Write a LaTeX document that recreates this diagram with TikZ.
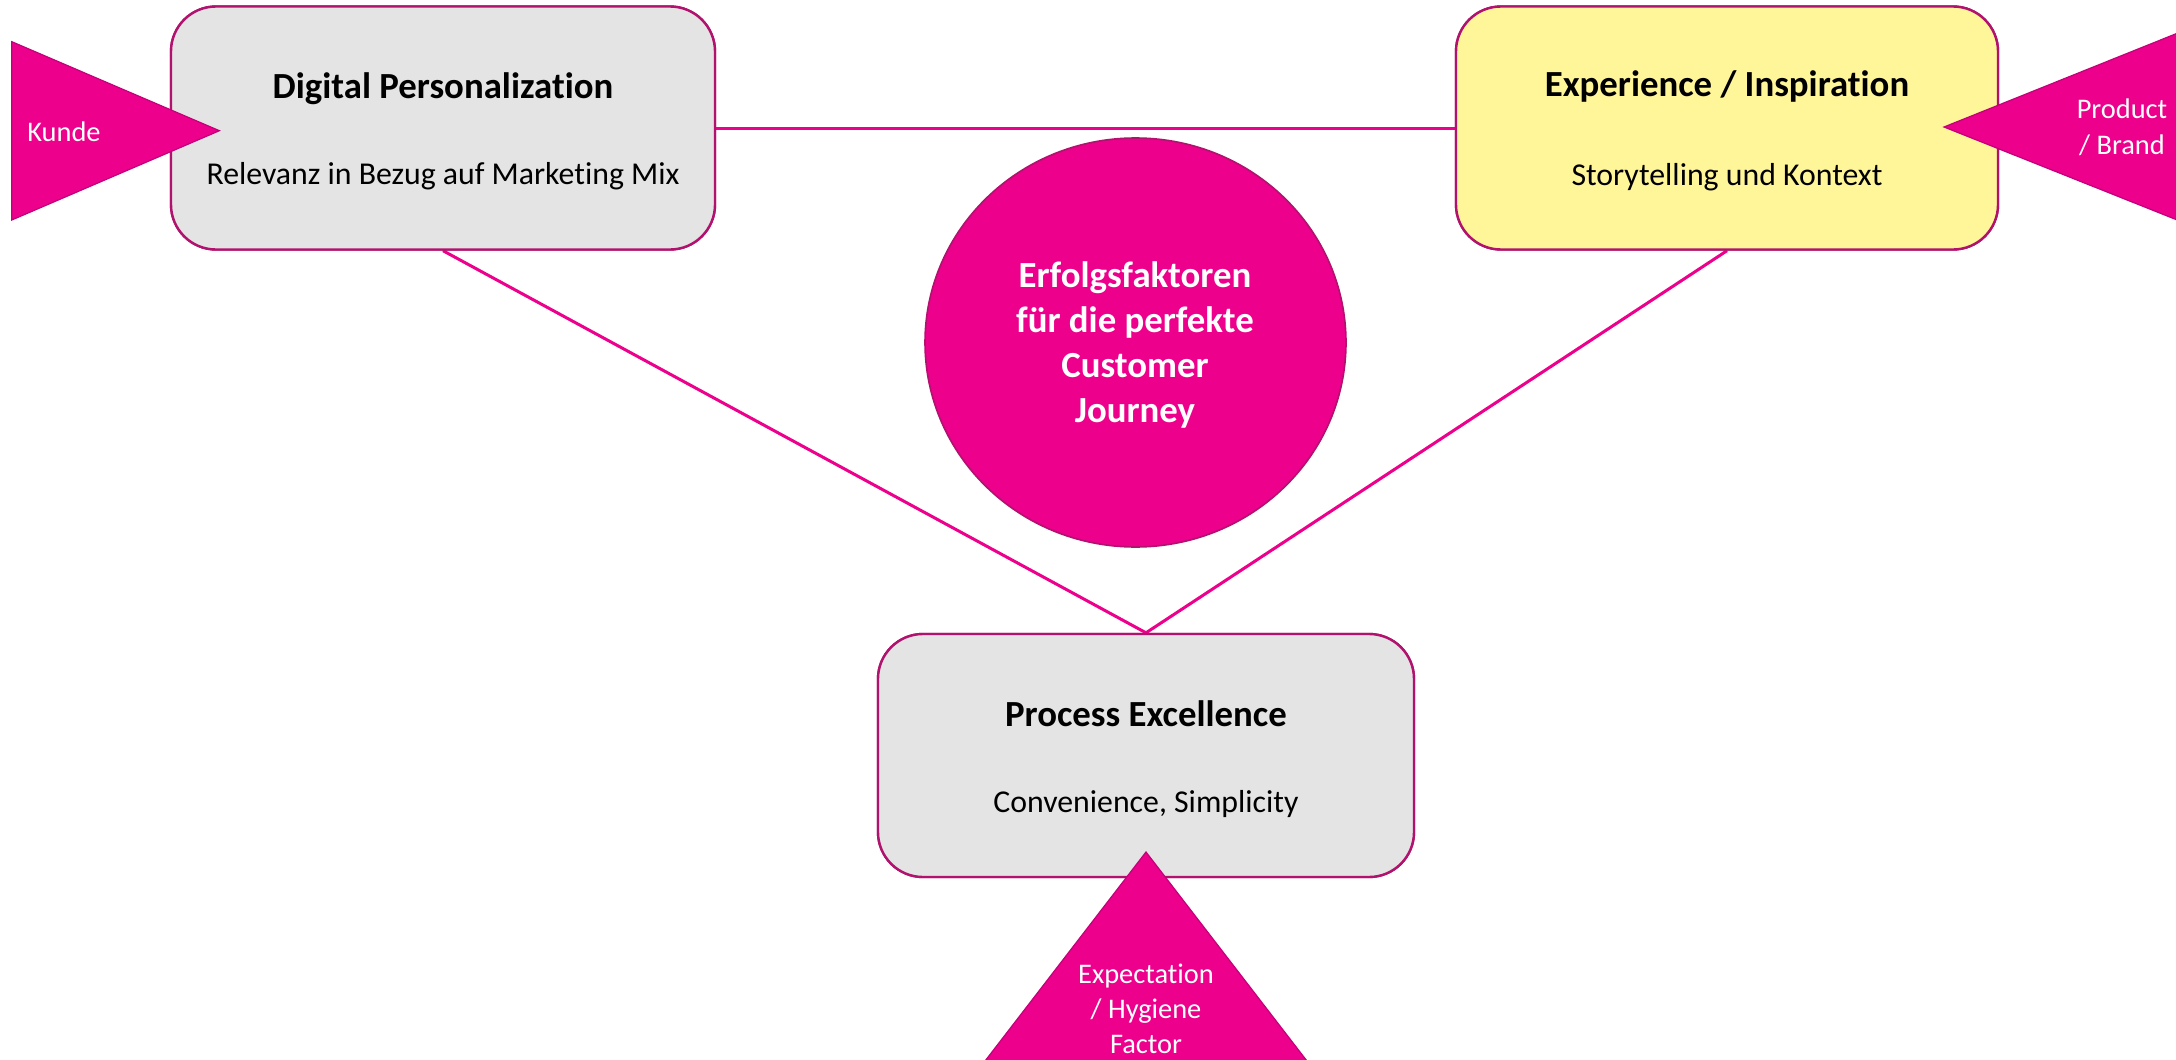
\documentclass[tikz,border=0pt]{standalone}
\usepackage{fontspec}
\setmainfont{Carlito}[Ligatures={NoCommon,NoDiscretionary,NoRare}]
\usetikzlibrary{shapes.geometric}
\definecolor{mag}{HTML}{EC008C}
\definecolor{magborder}{HTML}{B0126E}
\definecolor{tribord}{HTML}{C3007A}
\definecolor{boxgrey}{HTML}{E4E4E4}
\definecolor{boxyellow}{HTML}{FFF599}
\tikzset{
  factorbox/.style={draw=magborder, line width=1.2pt, rounded corners=22.5pt,
    minimum width=272pt, minimum height=121.5pt, inner sep=0pt},
  conn/.style={draw=mag, line width=1.5pt},
  tri/.style={fill=mag, draw=tribord, line width=0.6pt},
  titletext/.style={font=\fontsize{18.4}{22}\selectfont\bfseries, text=black, inner sep=0pt},
  bodytext/.style={font=\fontsize{15.9}{19}\selectfont, text=black, inner sep=0pt},
  tritext/.style={font=\fontsize{14.2}{17}\selectfont, text=white, inner sep=0pt},
  coretext/.style={font=\fontsize{18.4}{22}\selectfont\bfseries, text=white, inner sep=0pt}
}
\begin{document}
\begin{tikzpicture}[x=0.5pt,y=-0.5pt]
\useasboundingbox (0,0) rectangle (2176,1060);
\clip (0,0) rectangle (2176,1060);

% boxes (placed first so connectors can refer to them)
\node[factorbox, fill=boxgrey] (dp) at (443,128) {};
\node[factorbox, fill=boxyellow, minimum width=271pt] (ei) at (1727,128) {};
\node[factorbox, fill=boxgrey, minimum width=268pt] (pe) at (1146,755.5) {};

% connectors
\path[conn] (dp.east) -- (ei.west);
\path[conn, line join=miter] (dp.south) -- (pe.north) -- (ei.south);

% redraw boxes on top of connectors
\node[factorbox, fill=boxgrey] at (dp.center) {};
\node[factorbox, fill=boxyellow, minimum width=271pt] at (ei.center) {};
\node[factorbox, fill=boxgrey, minimum width=268pt] at (pe.center) {};

% box texts
\node[titletext, anchor=base] (dpt) at (443,98) {Digital Personalization};
\node[bodytext, anchor=base] (dpb) at (443,184) {Relevanz in Bezug auf Marketing Mix};
\node[titletext, anchor=base] (eit) at (1727,97) {Experience / Inspiration};
\node[bodytext, anchor=base] (eib) at (1727,185) {Storytelling und Kontext};
\node[titletext, anchor=base] (pet) at (1146,726) {Process Excellence};
\node[bodytext, anchor=base] (peb) at (1146,812) {Convenience, Simplicity};

% central circle
\node[ellipse, fill=mag, draw=magborder, line width=0.8pt, inner sep=0pt,
      minimum width=210.5pt, minimum height=204.5pt] (core) at (1135.5,342.5) {};
\node[coretext, anchor=base] (c1) at (1135,287) {Erfolgsfaktoren};
\node[coretext, anchor=base] (c2) at (1135,332) {für die perfekte};
\node[coretext, anchor=base] (c3) at (1135,377) {Customer};
\node[coretext, anchor=base] (c4) at (1135,422) {Journey};

% triangles
\path[tri] (11.8,41.7) -- (11.8,220) -- (219.4,130.7) -- cycle;
\node[tritext, anchor=base west] (kunde) at (27,141.7) {Kunde};

\path[tri] (1944,127) -- (2260,0) -- (2260,253) -- cycle;
\node[tritext, anchor=base] (pb1) at (2122,118) {Product};
\node[tritext, anchor=base] (pb2) at (2122,154) {/ Brand};

\path[tri] (1146,852) -- (955,1100) -- (1337,1100) -- cycle;
\node[tritext, anchor=base] (ex1) at (1146,983) {Expectation};
\node[tritext, anchor=base] (ex2) at (1146,1018) {/ Hygiene};
\node[tritext, anchor=base] (ex3) at (1146,1053) {Factor};
\end{tikzpicture}
\end{document}
